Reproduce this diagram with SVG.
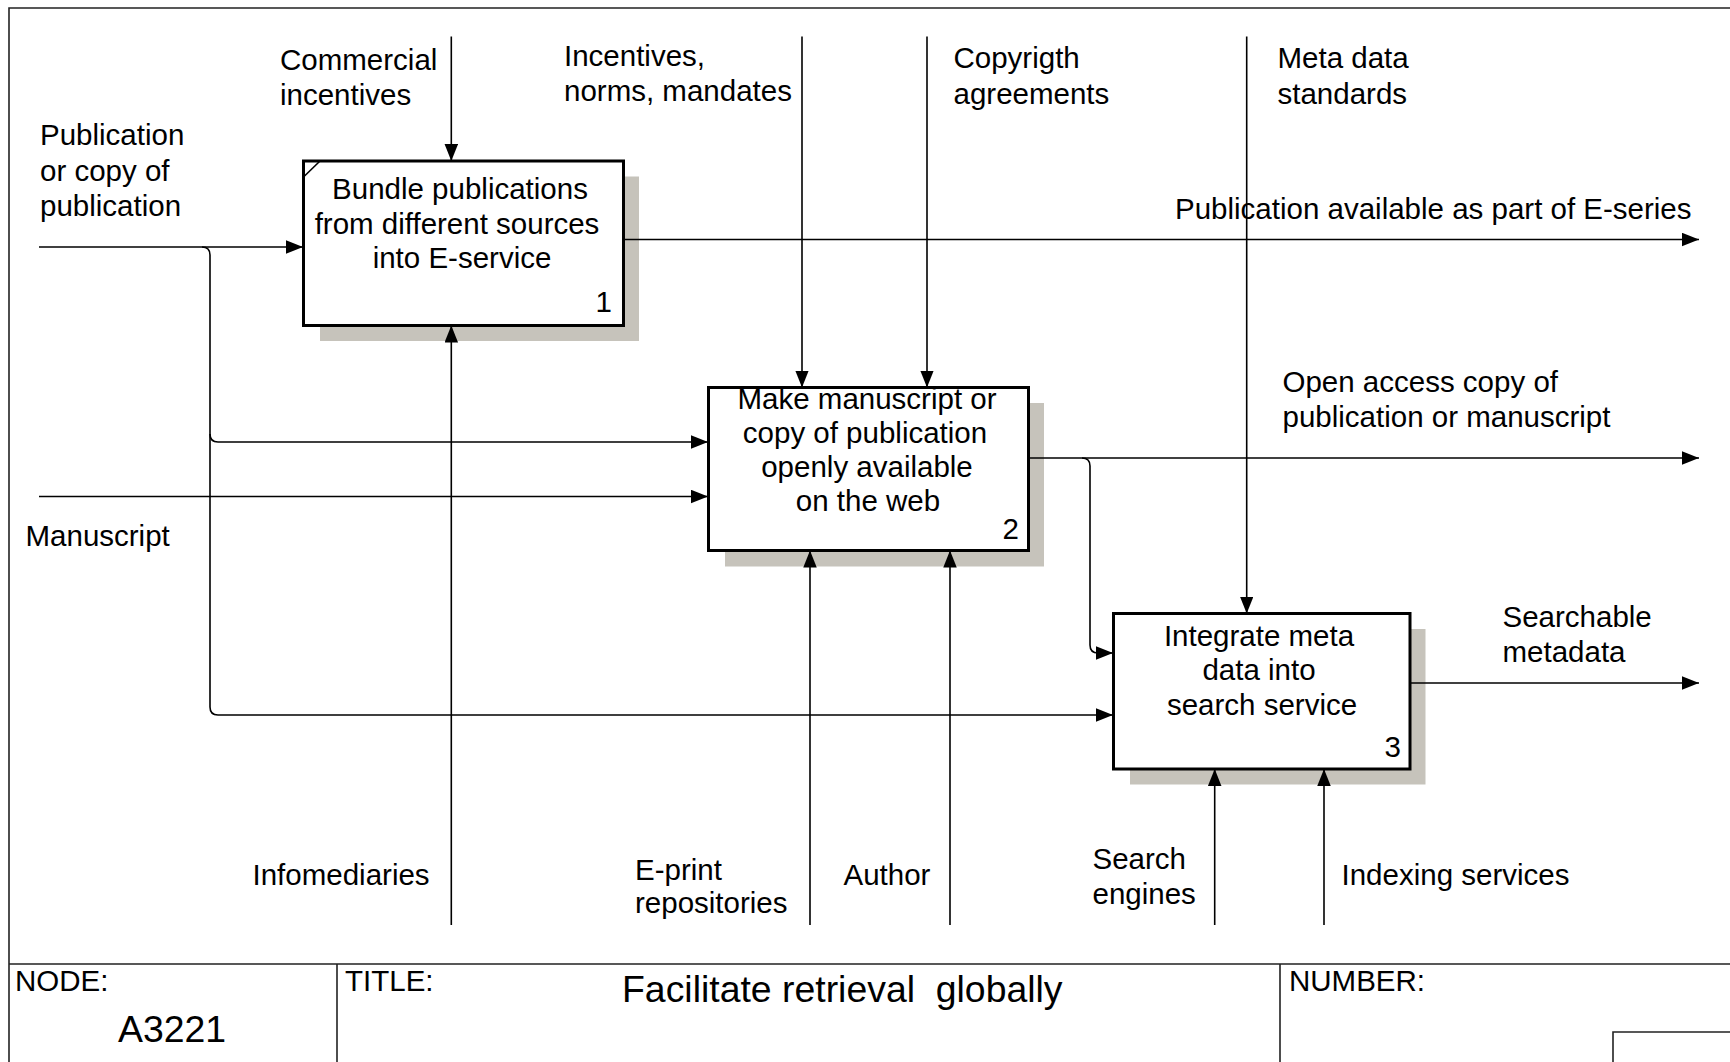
<svg xmlns="http://www.w3.org/2000/svg" width="1730" height="1062" viewBox="0 0 1730 1062">
<style>
text{font-family:"Liberation Sans",Arial,sans-serif;font-size:29.5px;fill:#000}
.c{text-anchor:middle}
.e{text-anchor:end}
.big{font-size:37.4px}
.pre{white-space:pre}
.box{fill:#fff;stroke:#000;stroke-width:3}
.shadow{fill:#c6c3bb}
.ln{fill:none;stroke:#000;stroke-width:1.6}
.fr{fill:none;stroke:#222;stroke-width:1.6}
</style>
<defs>
<marker id="ah" markerUnits="userSpaceOnUse" markerWidth="18" markerHeight="14" refX="17" refY="6.75" orient="auto">
<path d="M0,0 L17,6.75 L0,13.5 z" fill="#000"/>
</marker>
</defs>
<rect width="1730" height="1062" fill="#fff"/>
<g id="frame">
<path class="fr" d="M1730,8 H9 V1062"/>
<path class="fr" d="M9,964 H1730 M337,964 V1062 M1280,964 V1062"/>
<path class="fr" d="M1730,1032 H1613 V1062"/>
<text x="15" y="991">NODE:</text>
<text x="118" y="1041.5" class="big">A3221</text>
<text x="345" y="991">TITLE:</text>
<text x="622" y="1002" class="big pre" xml:space="preserve">Facilitate retrieval  globally</text>
<text x="1289" y="991">NUMBER:</text>
</g>
<g id="shadows">
<rect class="shadow" x="320" y="176.5" width="319" height="164.5"/>
<rect class="shadow" x="725" y="403" width="319" height="163.5"/>
<rect class="shadow" x="1130" y="629" width="295.5" height="155.5"/>
</g>
<g id="connectors">
<path class="ln" d="M39,247 H303" marker-end="url(#ah)"/>
<path class="ln" d="M202,247 Q210,247 210,255 V707 Q210,715 218,715 H1113" marker-end="url(#ah)"/>
<path class="ln" d="M210,434 Q210,442 218,442 H708" marker-end="url(#ah)"/>
<path class="ln" d="M39,496.5 H708" marker-end="url(#ah)"/>
<path class="ln" d="M623,239.5 H1699" marker-end="url(#ah)"/>
<path class="ln" d="M1028,458 H1699" marker-end="url(#ah)"/>
<path class="ln" d="M1082,458 Q1090,458 1090,466 V645 Q1090,653 1098,653 H1113" marker-end="url(#ah)"/>
<path class="ln" d="M1410,683 H1699" marker-end="url(#ah)"/>
<path class="ln" d="M451.3,36.5 V161" marker-end="url(#ah)"/>
<path class="ln" d="M802,36.5 V387.5" marker-end="url(#ah)"/>
<path class="ln" d="M927,36.5 V387.5" marker-end="url(#ah)"/>
<path class="ln" d="M1246.7,36.5 V613.5" marker-end="url(#ah)"/>
<path class="ln" d="M451.3,925 V325.5" marker-end="url(#ah)"/>
<path class="ln" d="M810,925 V550.5" marker-end="url(#ah)"/>
<path class="ln" d="M950,925 V550.5" marker-end="url(#ah)"/>
<path class="ln" d="M1214.7,925 V769" marker-end="url(#ah)"/>
<path class="ln" d="M1324,925 V769" marker-end="url(#ah)"/>
</g>
<g id="node1">
<rect class="box" x="303.5" y="161" width="320" height="164.5"/>
<path class="ln" d="M303.5,177 L320,161" stroke-width="2"/>
<text class="c" x="460" y="199">Bundle publications</text>
<text class="c" x="457" y="234">from different sources</text>
<text class="c" x="462" y="268">into E-service</text>
<text class="e" x="612" y="312">1</text>
</g>
<g id="node2">
<rect class="box" x="708.5" y="387.5" width="320" height="163"/>
<text class="c" x="867" y="408.5">Make manuscript or</text>
<text class="c" x="865" y="443">copy of publication</text>
<text class="c" x="867" y="477">openly available</text>
<text class="c" x="868" y="511">on the web</text>
<text class="e" x="1019" y="538.5">2</text>
</g>
<g id="node3">
<rect class="box" x="1113.5" y="613.5" width="296.5" height="155.5"/>
<text class="c" x="1259" y="645.5">Integrate meta</text>
<text class="c" x="1259" y="680">data into</text>
<text class="c" x="1262" y="714.5">search service</text>
<text class="e" x="1401" y="757">3</text>
</g>
<g id="labels">
<text x="40" y="144.5">Publication</text>
<text x="40" y="180.5">or copy of</text>
<text x="40" y="215.5">publication</text>
<text x="25.5" y="545.5">Manuscript</text>
<text x="280" y="69.5">Commercial</text>
<text x="280" y="105">incentives</text>
<text x="564" y="65.5">Incentives,</text>
<text x="564" y="101">norms, mandates</text>
<text x="953.5" y="68">Copyrigth</text>
<text x="953.5" y="104">agreements</text>
<text x="1277.5" y="68">Meta data</text>
<text x="1277.5" y="104">standards</text>
<text x="1175" y="219">Publication available as part of E-series</text>
<text x="1282.5" y="391.5">Open access copy of</text>
<text x="1282.5" y="426.5">publication or manuscript</text>
<text x="1502.5" y="626.5">Searchable</text>
<text x="1502.5" y="661.5">metadata</text>
<text x="252.5" y="885">Infomediaries</text>
<text x="635" y="879.5">E-print</text>
<text x="635" y="913">repositories</text>
<text x="843.5" y="885">Author</text>
<text x="1092.5" y="869">Search</text>
<text x="1092.5" y="904">engines</text>
<text x="1341.5" y="884.5">Indexing services</text>
</g>
</svg>
